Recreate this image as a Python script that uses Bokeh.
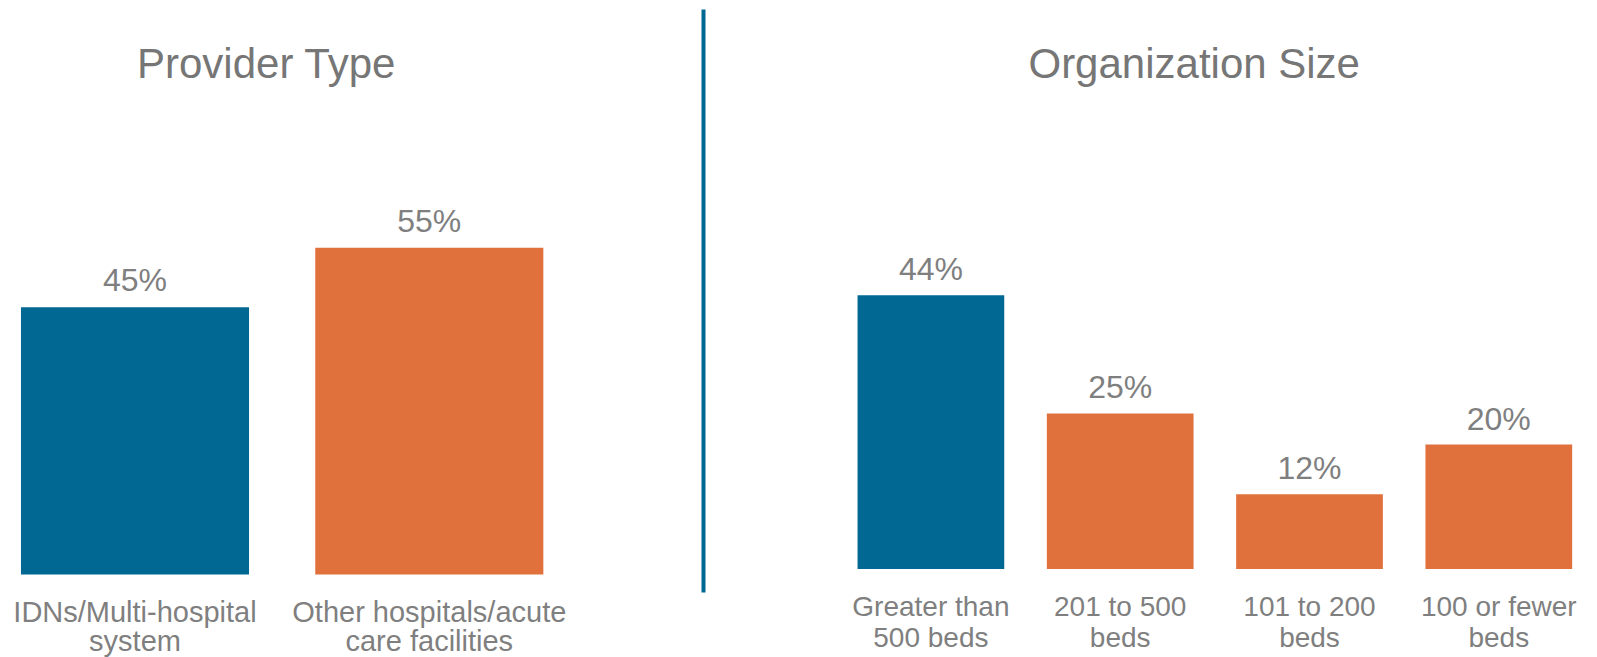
from bokeh.plotting import figure
from bokeh.layouts import row
from bokeh.models import ColumnDataSource, Range1d
from bokeh.core.properties import value
from bokeh.embed import file_html
from bokeh.resources import INLINE

# ---- data ----
provider_categories = ["IDNs/Multi-hospital\nsystem", "Other hospitals/acute\ncare facilities"]
provider_values = [45, 55]
provider_labels = ["45%", "55%"]

size_categories = ["Greater than\n500 beds", "201 to 500\nbeds", "101 to 200\nbeds", "100 or fewer\nbeds"]
size_values = [44, 25, 12, 20]
size_labels = ["44%", "25%", "12%", "20%"]

titles = ["Provider Type", "Organization Size"]

BLUE = "#006892"
ORANGE = "#E0703C"
GRAY = "#7F7F7F"
TITLE_GRAY = "#767676"
FONT = "Liberation Sans"
H = 657


def panel(width, cats, vals, labels, title, first_px, step_px, base_px, px_per, bar_w,
          title_x, title_px, cat_size, cat_y1, cat_y2, val_size, val_off):
    xs = list(range(len(cats)))
    x0 = -first_px / step_px
    y0 = -(H - base_px) / px_per
    p = figure(width=width, height=H, output_backend="svg", toolbar_location=None,
               x_range=Range1d(x0, x0 + width / step_px),
               y_range=Range1d(y0, y0 + H / px_per),
               min_border=0, min_border_left=0, min_border_right=0,
               min_border_top=0, min_border_bottom=0)
    p.axis.visible = False
    p.grid.visible = False
    p.outline_line_color = None
    p.background_fill_color = "white"
    p.border_fill_color = "white"

    colors = [BLUE] + [ORANGE] * (len(cats) - 1)
    line1 = [c.split("\n")[0] for c in cats]
    line2 = [c.split("\n")[1] for c in cats]
    src = ColumnDataSource(dict(x=xs, v=vals, lab=labels, c=colors, l1=line1, l2=line2))
    p.vbar(x="x", top="v", bottom=0, width=bar_w, fill_color="c", line_color=None, source=src)
    p.text(x="x", y="v", text="lab", source=src, text_align="center",
           text_baseline="alphabetic", y_offset=val_off, text_font=value(FONT),
           text_font_size=f"{val_size}px", text_color=GRAY)
    ycat1 = (base_px - cat_y1) / px_per
    ycat2 = (base_px - cat_y2) / px_per
    p.text(x="x", y=ycat1, text="l1", source=src, text_align="center",
           text_baseline="alphabetic", text_font=value(FONT),
           text_font_size=f"{cat_size}px", text_color=GRAY)
    p.text(x="x", y=ycat2, text="l2", source=src, text_align="center",
           text_baseline="alphabetic", text_font=value(FONT),
           text_font_size=f"{cat_size}px", text_color=GRAY)
    p.text(x=[title_x], y=[(base_px - title_px) / px_per], text=[title],
           text_align="center", text_baseline="middle", text_font=value(FONT),
           text_font_size="42px", text_color=TITLE_GRAY)
    return p, x0, y0


p1, _, _ = panel(700, provider_categories, provider_values, provider_labels, titles[0],
                 first_px=134.5, step_px=294.3, base_px=574.0, px_per=5.94, bar_w=0.775,
                 title_x=0.447, title_px=63, cat_size=29,
                 cat_y1=611, cat_y2=640, val_size=32, val_off=-27)

p2, rx0, ry0 = panel(897, size_categories, size_values, size_labels, titles[1],
                     first_px=230.4, step_px=189.3, base_px=568.4, px_per=6.22, bar_w=0.775,
                     title_x=1.391, title_px=63, cat_size=28,
                     cat_y1=606, cat_y2=637, val_size=32, val_off=-26)

# vertical divider at the left edge of the right panel
dx = rx0 + 3 / 189.3
p2.segment(x0=[dx], y0=[(568.4 - 9) / 6.22], x1=[dx], y1=[(568.4 - 592) / 6.22],
           line_color=BLUE, line_width=4)

layout = row(p1, p2, spacing=0)
open("out.html", "w").write(file_html(layout, INLINE))
